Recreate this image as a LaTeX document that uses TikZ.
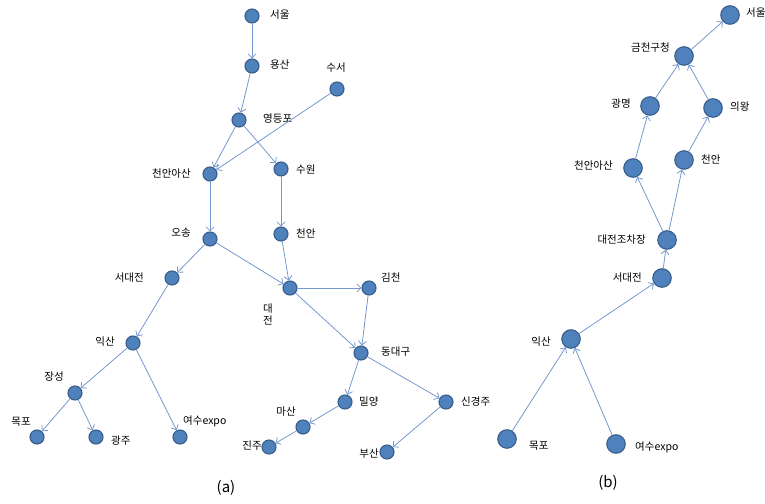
\documentclass[tikz,border=0pt]{standalone}
\usepackage{fontspec}
\setmainfont{Noto Sans CJK KR}
\usetikzlibrary{arrows.meta}
\definecolor{stnfill}{RGB}{79,129,189}
\definecolor{stndraw}{RGB}{56,93,138}
\definecolor{linkblue}{RGB}{116,152,206}
\begin{document}
\begin{tikzpicture}[x=1pt,y=-1pt,font=\fontsize{10.5}{12}\selectfont,
  stn/.style={circle,fill=stnfill,draw=stndraw,line width=1.1pt,inner sep=0pt,minimum size=14pt},
  bigstn/.style={stn,minimum size=18.5pt},
  lbl/.style={inner sep=0pt},
  link/.style={draw=linkblue,line width=.8pt,-{Straight Barb[length=4pt,width=8pt]}}]
\useasboundingbox (0,0) rectangle (765,503);
\node[stn] (a-seoul) at (252,16) {};
\node[lbl,anchor=west] (a-seoul-t) at (270,15) {서울};
\node[stn] (a-yongsan) at (252,66) {};
\node[lbl,anchor=west] (a-yongsan-t) at (270,65) {용산};
\node[stn] (a-suseo) at (337,89) {};
\node[lbl] (a-suseo-t) at (336,68) {수서};
\node[stn] (a-yeongdeungpo) at (239,120) {};
\node[lbl,anchor=west] (a-yeongdeungpo-t) at (263,119) {영등포};
\node[stn] (a-cheonanasan) at (210,174) {};
\node[lbl,anchor=east] (a-cheonanasan-t) at (191,174) {천안아산};
\node[stn] (a-suwon) at (281,169) {};
\node[lbl,anchor=west] (a-suwon-t) at (296,170) {수원};
\node[stn] (a-osong) at (210,239) {};
\node[lbl,anchor=east] (a-osong-t) at (191,233) {오송};
\node[stn] (a-cheonan) at (281,234) {};
\node[lbl,anchor=west] (a-cheonan-t) at (296,233) {천안};
\node[stn] (a-seodaejeon) at (172,278) {};
\node[lbl,anchor=east] (a-seodaejeon-t) at (144,278) {서대전};
\node[stn] (a-daejeon) at (290,288) {};
\node[lbl,align=center] (a-daejeon-t) at (268,314) {대\\전};
\node[stn] (a-gimcheon) at (369,288) {};
\node[lbl,anchor=west] (a-gimcheon-t) at (381,278) {김천};
\node[stn] (a-iksan) at (133,343) {};
\node[lbl,anchor=east] (a-iksan-t) at (115,342) {익산};
\node[stn] (a-dongdaegu) at (361,353) {};
\node[lbl,anchor=west] (a-dongdaegu-t) at (381,352) {동대구};
\node[stn] (a-jangseong) at (75,393) {};
\node[lbl] (a-jangseong-t) at (54,377) {장성};
\node[stn] (a-miryang) at (345,402) {};
\node[lbl,anchor=west] (a-miryang-t) at (359,402) {밀양};
\node[stn] (a-singyeongju) at (446,402) {};
\node[lbl,anchor=west] (a-singyeongju-t) at (461,402) {신경주};
\node[stn] (a-masan) at (303,427) {};
\node[lbl] (a-masan-t) at (286,412) {마산};
\node[stn] (a-mokpo) at (37,437) {};
\node[lbl] (a-mokpo-t) at (21,422) {목포};
\node[stn] (a-gwangju) at (96,437) {};
\node[lbl,anchor=west] (a-gwangju-t) at (111,441) {광주};
\node[stn] (a-yeosu) at (180,437) {};
\node[lbl,anchor=west] (a-yeosu-t) at (183,421) {여수expo};
\node[stn] (a-jinju) at (269,447) {};
\node[lbl] (a-jinju-t) at (252,446) {진주};
\node[stn] (a-busan) at (387,452) {};
\node[lbl] (a-busan-t) at (369,454) {부산};
\node[font=\fontsize{15}{17}\selectfont] (a-cap) at (226,488) {(a)};
\draw[link] (a-seoul) -- (a-yongsan);
\draw[link] (a-yongsan) -- (a-yeongdeungpo);
\draw[link] (a-yeongdeungpo) -- (a-cheonanasan);
\draw[link] (a-yeongdeungpo) -- (a-suwon);
\draw[link] (a-suseo) -- (a-cheonanasan);
\draw[link] (a-cheonanasan) -- (a-osong);
\draw[link] (a-suwon) -- (a-cheonan);
\draw[link] (a-osong) -- (a-seodaejeon);
\draw[link] (a-osong) -- (a-daejeon);
\draw[link] (a-cheonan) -- (a-daejeon);
\draw[link] (a-daejeon) -- (a-gimcheon);
\draw[link] (a-daejeon) -- (a-dongdaegu);
\draw[link] (a-gimcheon) -- (a-dongdaegu);
\draw[link] (a-seodaejeon) -- (a-iksan);
\draw[link] (a-iksan) -- (a-jangseong);
\draw[link] (a-iksan) -- (a-yeosu);
\draw[link] (a-jangseong) -- (a-mokpo);
\draw[link] (a-jangseong) -- (a-gwangju);
\draw[link] (a-dongdaegu) -- (a-miryang);
\draw[link] (a-dongdaegu) -- (a-singyeongju);
\draw[link] (a-miryang) -- (a-masan);
\draw[link] (a-masan) -- (a-jinju);
\draw[link] (a-singyeongju) -- (a-busan);
\node[bigstn] (b-seoul) at (730,15) {};
\node[lbl,anchor=west] (b-seoul-t) at (746,13) {서울};
\node[bigstn] (b-geumcheon) at (684,56) {};
\node[lbl,anchor=east] (b-geumcheon-t) at (670,48) {금천구청};
\node[bigstn] (b-gwangmyeong) at (650,106) {};
\node[lbl,anchor=east] (b-gwangmyeong-t) at (631,104) {광명};
\node[bigstn] (b-uiwang) at (713,108) {};
\node[lbl,anchor=west] (b-uiwang-t) at (730,107) {의왕};
\node[bigstn] (b-cheonanasan) at (633,168) {};
\node[lbl,anchor=east] (b-cheonanasan-t) at (613,166) {천안아산};
\node[bigstn] (b-cheonan) at (684,160) {};
\node[lbl,anchor=west] (b-cheonan-t) at (701,159) {천안};
\node[bigstn] (b-yard) at (667,240) {};
\node[lbl,anchor=east] (b-yard-t) at (646,240) {대전조차장};
\node[bigstn] (b-seodaejeon) at (662,278) {};
\node[lbl,anchor=east] (b-seodaejeon-t) at (642,278) {서대전};
\node[bigstn] (b-iksan) at (571,339) {};
\node[lbl,anchor=east] (b-iksan-t) at (551,342) {익산};
\node[bigstn] (b-mokpo) at (507,439) {};
\node[lbl,anchor=west] (b-mokpo-t) at (529,446) {목포};
\node[bigstn] (b-yeosu) at (616,444) {};
\node[lbl,anchor=west] (b-yeosu-t) at (635,447) {여수expo};
\node[font=\fontsize{15}{17}\selectfont] (b-cap) at (608,483) {(b)};
\draw[link] (b-mokpo) -- (b-iksan);
\draw[link] (b-yeosu) -- (b-iksan);
\draw[link] (b-iksan) -- (b-seodaejeon);
\draw[link] (b-seodaejeon) -- (b-yard);
\draw[link] (b-yard) -- (b-cheonanasan);
\draw[link] (b-yard) -- (b-cheonan);
\draw[link] (b-cheonanasan) -- (b-gwangmyeong);
\draw[link] (b-cheonan) -- (b-uiwang);
\draw[link] (b-gwangmyeong) -- (b-geumcheon);
\draw[link] (b-uiwang) -- (b-geumcheon);
\draw[link] (b-geumcheon) -- (b-seoul);
\end{tikzpicture}
\end{document}
